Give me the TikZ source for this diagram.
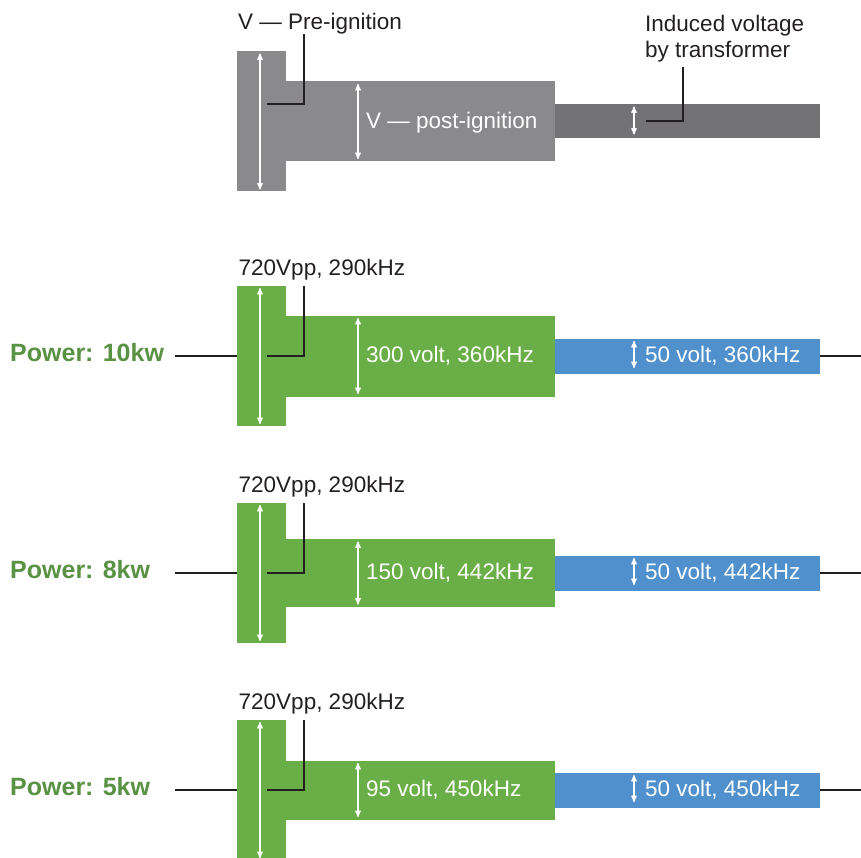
\documentclass[tikz,border=0pt]{standalone}
\usepackage{fontspec}
\setmainfont{Liberation Sans}
\usepackage{xcolor}
\usepackage{tikz}
\usetikzlibrary{arrows}
\usetikzlibrary{positioning}

\definecolor{preGray}{RGB}{138,138,140}
\definecolor{indGray}{RGB}{115,115,117}
\definecolor{barGreen}{RGB}{106,174,72}
\definecolor{powerGreen}{RGB}{90,146,68}
\definecolor{barBlue}{RGB}{79,144,205}
\definecolor{inkDark}{RGB}{35,31,32}

\begin{document}
\begin{tikzpicture}[x=1pt,y=-1pt,>=stealth',
  tallbar/.style={rectangle,inner sep=0pt,outer sep=0pt,minimum width=49pt,minimum height=140pt},
  widebar/.style={rectangle,inner sep=0pt,outer sep=0pt,minimum width=269pt},
  thinbar/.style={rectangle,inner sep=0pt,outer sep=0pt,minimum width=265pt,minimum height=35pt},
  varrow/.style={<->,draw=white,line width=1.3pt},
  leader/.style={draw=inkDark,line width=2pt},
  lbl/.style={inner sep=0pt,anchor=base west,text=inkDark,font=\fontsize{22.5}{26}\selectfont},
  inlbl/.style={lbl,text=white},
  power/.style={inner sep=0pt,anchor=base west,text=powerGreen,font=\fontsize{25}{30}\selectfont\bfseries}]
  \useasboundingbox (0,0) rectangle (861,858);

  % pre / post ignition
  \node[tallbar,fill=preGray] (pre) at (261.5,121.5) {};
  \node[widebar,fill=preGray,minimum height=80pt,right=0pt of pre] (post) {};
  \node[thinbar,fill=indGray,minimum height=34pt,right=0pt of post] (ind) {};
  \draw[varrow] ([xshift=-1.5pt,yshift=-2pt]pre.north) -- ([xshift=-1.5pt,yshift=2pt]pre.south);
  \draw[varrow] ([xshift=72pt,yshift=-2.5pt]post.north west) -- ([xshift=72pt,yshift=2.5pt]post.south west);
  \draw[varrow] ([xshift=79pt,yshift=15pt]ind.west) -- ([xshift=79pt,yshift=-13pt]ind.west);
  \node[lbl] (prelbl) at (238,30) {V — Pre-ignition};
  \draw[leader] ([xshift=42pt,yshift=17pt]pre.north) |- ([xshift=5pt,yshift=17.5pt]pre.center);
  \node[inlbl] (postlbl) at ([xshift=80pt,yshift=-7pt]post.west) {V — post-ignition};
  \node[lbl,anchor=north west,align=left] (indlbl) at (645,15) {Induced voltage\\by transformer};
  \coordinate (indtop) at (683,67);
  \draw[leader] (indtop) |- ([xshift=91pt]ind.west);

  % 10kw
  \node[tallbar,fill=barGreen] (g1) at (261.5,356) {};
  \node[widebar,fill=barGreen,minimum height=81pt,right=0pt of g1] (w1) {};
  \node[thinbar,fill=barBlue,right=0pt of w1] (b1) {};
  \draw[varrow] ([xshift=-1.5pt,yshift=-2pt]g1.north) -- ([xshift=-1.5pt,yshift=2pt]g1.south);
  \draw[varrow] ([xshift=72pt,yshift=-2.5pt]w1.north west) -- ([xshift=72pt,yshift=2.5pt]w1.south west);
  \draw[varrow] ([xshift=79pt,yshift=15pt]b1.west) -- ([xshift=79pt,yshift=-12pt]b1.west);
  \node[lbl] (g1lbl) at ([xshift=-23pt,yshift=80.5pt]g1.center) {720Vpp, 290kHz};
  \draw[leader] ([xshift=42pt]g1.north) |- ([xshift=5pt]g1.center);
  \node[inlbl] (w1lbl) at ([xshift=80pt,yshift=-6.5pt]w1.west) {300 volt, 360kHz};
  \node[inlbl] (b1lbl) at ([xshift=90pt,yshift=-6pt]b1.west) {50 volt, 360kHz};
  \node[power] (p1) at (10,361) {Power: 10kw};
  \coordinate (l1) at ([xshift=-62pt]g1.west);
  \coordinate (r1) at ([xshift=41pt]b1.east);
  \draw[leader] (l1) -- (g1.west);
  \draw[leader] (b1.east) -- (r1);

  % 8kw
  \node[tallbar,fill=barGreen] (g2) at (261.5,573) {};
  \node[widebar,fill=barGreen,minimum height=68pt,right=0pt of g2] (w2) {};
  \node[thinbar,fill=barBlue,right=0pt of w2] (b2) {};
  \draw[varrow] ([xshift=-1.5pt,yshift=-2pt]g2.north) -- ([xshift=-1.5pt,yshift=2pt]g2.south);
  \draw[varrow] ([xshift=72pt,yshift=-2.5pt]w2.north west) -- ([xshift=72pt,yshift=2.5pt]w2.south west);
  \draw[varrow] ([xshift=79pt,yshift=15pt]b2.west) -- ([xshift=79pt,yshift=-12pt]b2.west);
  \node[lbl] (g2lbl) at ([xshift=-23pt,yshift=80.5pt]g2.center) {720Vpp, 290kHz};
  \draw[leader] ([xshift=42pt]g2.north) |- ([xshift=5pt]g2.center);
  \node[inlbl] (w2lbl) at ([xshift=80pt,yshift=-6.5pt]w2.west) {150 volt, 442kHz};
  \node[inlbl] (b2lbl) at ([xshift=90pt,yshift=-6pt]b2.west) {50 volt, 442kHz};
  \node[power] (p2) at (10,578) {Power: 8kw};
  \coordinate (l2) at ([xshift=-62pt]g2.west);
  \coordinate (r2) at ([xshift=41pt]b2.east);
  \draw[leader] (l2) -- (g2.west);
  \draw[leader] (b2.east) -- (r2);

  % 5kw
  \node[tallbar,fill=barGreen] (g3) at (261.5,790) {};
  \node[widebar,fill=barGreen,minimum height=59pt,right=0pt of g3] (w3) {};
  \node[thinbar,fill=barBlue,right=0pt of w3] (b3) {};
  \draw[varrow] ([xshift=-1.5pt,yshift=-2pt]g3.north) -- ([xshift=-1.5pt,yshift=2pt]g3.south);
  \draw[varrow] ([xshift=72pt,yshift=-2.5pt]w3.north west) -- ([xshift=72pt,yshift=2.5pt]w3.south west);
  \draw[varrow] ([xshift=79pt,yshift=15pt]b3.west) -- ([xshift=79pt,yshift=-12pt]b3.west);
  \node[lbl] (g3lbl) at ([xshift=-23pt,yshift=80.5pt]g3.center) {720Vpp, 290kHz};
  \draw[leader] ([xshift=42pt]g3.north) |- ([xshift=5pt]g3.center);
  \node[inlbl] (w3lbl) at ([xshift=80pt,yshift=-6.5pt]w3.west) {95 volt, 450kHz};
  \node[inlbl] (b3lbl) at ([xshift=90pt,yshift=-6pt]b3.west) {50 volt, 450kHz};
  \node[power] (p3) at (10,795) {Power: 5kw};
  \coordinate (l3) at ([xshift=-62pt]g3.west);
  \coordinate (r3) at ([xshift=41pt]b3.east);
  \draw[leader] (l3) -- (g3.west);
  \draw[leader] (b3.east) -- (r3);
\end{tikzpicture}
\end{document}
